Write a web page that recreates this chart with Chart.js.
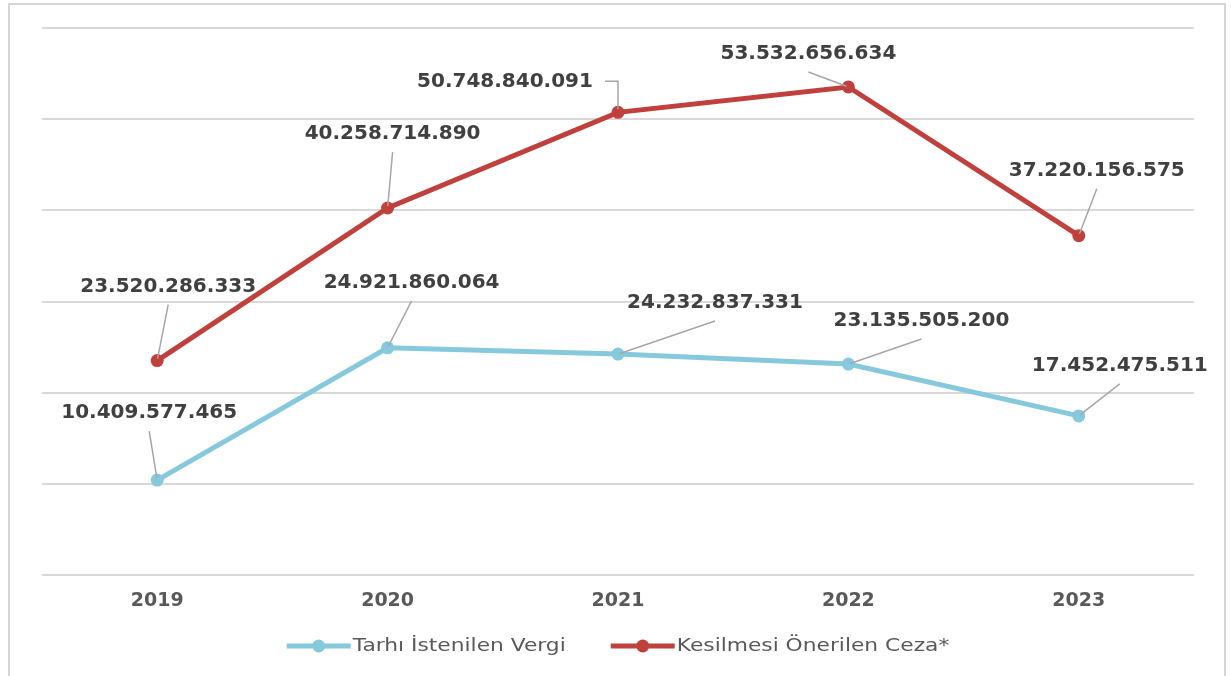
<!DOCTYPE html>
<html>
<head>
<meta charset="utf-8">
<script src="https://cdn.jsdelivr.net/npm/chart.js@4.4.1/dist/chart.umd.min.js"></script>
<style>
  html, body { margin: 0; padding: 0; background: #ffffff; }
  #wrap { width: 1231px; height: 676px; position: relative; }
</style>
</head>
<body>
<div id="wrap"><canvas id="c" width="1231" height="676"></canvas></div>
<script>
// ---- data ----
const years = ['2019', '2020', '2021', '2022', '2023'];
const seriesNames = ['Tarhı İstenilen Vergi', 'Kesilmesi Önerilen Ceza*'];
const tarhiVergi = [10409577465, 24921860064, 24232837331, 23135505200, 17452475511];
const kesilmesiCeza = [23520286333, 40258714890, 50748840091, 53532656634, 37220156575];
const yTicks = [0, 10000000000, 20000000000, 30000000000, 40000000000, 50000000000, 60000000000];

// ---- label placement (offset of label centre from its point, px) ----
const vergiLabelOffsets = [[-8, -67], [24, -65], [97, -51], [73, -43], [41, -50]];
const cezaLabelOffsets = [[11, -74], [5, -74], [-113, -31], [-40, -33], [18, -65]];
const cezaElbowIndex = 2;

const BLUE = '#86c9dc';
const RED = '#c0403d';
const LABEL_COLOR = '#404040';
const AXIS_TEXT = '#595959';

function fmt(v) {
  return String(v).replace(/\B(?=(\d{3})+(?!\d))/g, '.');
}

const framePlugin = {
  id: 'frame',
  beforeDraw(chart) {
    const ctx = chart.ctx;
    ctx.save();
    ctx.strokeStyle = '#d6d6d6';
    ctx.lineWidth = 2;
    ctx.strokeRect(9, 4, 1216, 690);
    ctx.restore();
  }
};

const labelPlugin = {
  id: 'pointLabels',
  afterDatasetsDraw(chart) {
    const ctx = chart.ctx;
    ctx.save();
    ctx.font = 'bold 20px "DejaVu Sans"';
    ctx.textAlign = 'center';
    ctx.textBaseline = 'middle';
    chart.data.datasets.forEach((ds, di) => {
      const meta = chart.getDatasetMeta(di);
      const offs = ds.labelOffsets;
      meta.data.forEach((pt, i) => {
        const [dx, dy] = offs[i];
        const lx = pt.x + dx, ly = pt.y + dy;
        const txt = fmt(ds.data[i]);
        ctx.strokeStyle = '#a6a6a6';
        ctx.lineWidth = 1.5;
        ctx.beginPath();
        if (ds.elbow === i) {
          const w = ctx.measureText(txt).width;
          ctx.moveTo(lx + w / 2 + 12, ly);
          ctx.lineTo(pt.x, ly);
          ctx.lineTo(pt.x, pt.y - 3);
        } else {
          const sx = lx, sy = ly + 18;
          const ang = Math.atan2(pt.y - sy, pt.x - sx);
          ctx.moveTo(sx, sy);
          ctx.lineTo(pt.x - Math.cos(ang) * 2, pt.y - Math.sin(ang) * 2);
        }
        ctx.stroke();
        ctx.fillStyle = LABEL_COLOR;
        ctx.fillText(txt, lx, ly);
      });
    });
    ctx.restore();
  }
};

const legendPlugin = {
  id: 'customLegend',
  afterDraw(chart) {
    const ctx = chart.ctx;
    const sx = 1.28;
    const lineLen = 64, gapText = 2, gapItems = 45;
    const y = 646;
    ctx.save();
    ctx.font = '17px "DejaVu Sans"';
    ctx.textBaseline = 'middle';
    ctx.textAlign = 'left';
    const items = chart.data.datasets.map(ds => ({
      label: ds.label, color: ds.borderColor,
      w: ctx.measureText(ds.label).width * sx
    }));
    let total = 0;
    items.forEach((it, i) => { total += lineLen + gapText + it.w + (i ? gapItems : 0); });
    const ca = chart.chartArea;
    let x = (ca.left + ca.right) / 2 - total / 2;
    items.forEach(it => {
      ctx.strokeStyle = it.color;
      ctx.lineWidth = 5;
      ctx.lineCap = 'butt';
      ctx.beginPath();
      ctx.moveTo(x, y);
      ctx.lineTo(x + lineLen, y);
      ctx.stroke();
      ctx.fillStyle = it.color;
      ctx.beginPath();
      ctx.arc(x + lineLen / 2, y, 6.5, 0, Math.PI * 2);
      ctx.fill();
      ctx.save();
      ctx.translate(x + lineLen + gapText, y);
      ctx.scale(sx, 1);
      ctx.fillStyle = AXIS_TEXT;
      ctx.fillText(it.label, 0, 1);
      ctx.restore();
      x += lineLen + gapText + it.w + gapItems;
    });
    ctx.restore();
  }
};

new Chart(document.getElementById('c'), {
  type: 'line',
  data: {
    labels: years,
    datasets: [
      {
        label: seriesNames[0],
        data: tarhiVergi,
        borderColor: BLUE,
        backgroundColor: BLUE,
        borderWidth: 5,
        pointRadius: 6.5,
        pointBackgroundColor: BLUE,
        pointBorderColor: BLUE,
        pointBorderWidth: 0,
        tension: 0,
        labelOffsets: vergiLabelOffsets,
        elbow: -1
      },
      {
        label: seriesNames[1],
        data: kesilmesiCeza,
        borderColor: RED,
        backgroundColor: RED,
        borderWidth: 5,
        pointRadius: 6.5,
        pointBackgroundColor: RED,
        pointBorderColor: RED,
        pointBorderWidth: 0,
        tension: 0,
        labelOffsets: cezaLabelOffsets,
        elbow: cezaElbowIndex
      }
    ]
  },
  options: {
    responsive: false,
    animation: false,
    devicePixelRatio: 1,
    layout: { padding: { top: 28, right: 37, bottom: 0, left: 0 } },
    plugins: {
      legend: { display: false },
      tooltip: { enabled: false }
    },
    scales: {
      x: {
        offset: true,
        grid: { display: false, drawTicks: false },
        border: { display: false },
        ticks: {
          color: AXIS_TEXT,
          font: { family: '"DejaVu Sans"', size: 19, weight: 'bold' },
          padding: 15
        },
        afterFit(scale) { scale.height = 101; }
      },
      y: {
        min: 0,
        max: 60000000000,
        afterBuildTicks(scale) { scale.ticks = yTicks.map(v => ({ value: v })); },
        grid: { color: '#d9d9d9', lineWidth: 2, drawTicks: false },
        border: { display: false },
        ticks: { display: false },
        afterFit(scale) { scale.width = 42; }
      }
    }
  },
  plugins: [framePlugin, labelPlugin, legendPlugin]
});
</script>
</body>
</html>
